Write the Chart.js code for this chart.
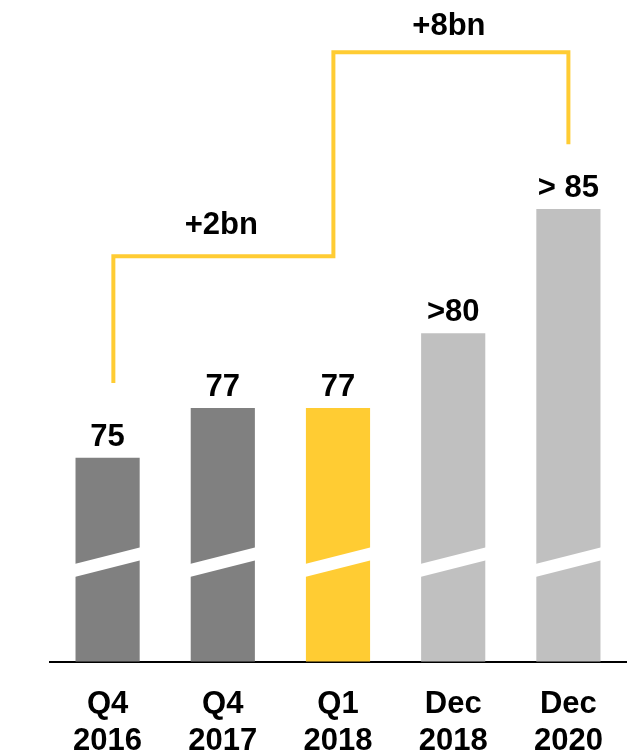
<!DOCTYPE html>
<html lang="en">
<head>
  <meta charset="UTF-8">
  <title>Volume growth</title>
  <script src="https://cdn.jsdelivr.net/npm/chart.js@4.4.3/dist/chart.umd.min.js"></script>
  <style>
    html, body { margin: 0; padding: 0; background: #fff; }
    #wrap { width: 635px; height: 755px; }
  </style>
</head>
<body>
  <div id="wrap"><canvas id="chart" width="635" height="755"></canvas></div>
  <script>
    // chart data
    const categories = [['Q4', '2016'], ['Q4', '2017'], ['Q1', '2018'], ['Dec', '2018'], ['Dec', '2020']];
    const values = [75, 77, 77, 80, 85];
    const valueLabels = ['75', '77', '77', '>80', '> 85'];
    const barColors = ['#808080', '#808080', '#FFCC33', '#C0C0C0', '#C0C0C0'];

    // step connector (x in category index units, y in value units)
    const bracketX = [0.05, 0.05, 1.96, 1.96, 4.0, 4.0];
    const bracketY = [78, 83.1, 83.1, 91.3, 91.3, 87.6];
    const bracketLabels = ['+2bn', '+8bn'];
    const bracketLabelY = [84, 92];

    const yMin = 66.8, yMax = 93;   // broken axis
    const breakValue = 70.8;

    const FONT = '"Liberation Sans", Arial, sans-serif';

    const overlay = {
      id: 'overlay',
      afterDatasetsDraw(chart) {
        const ctx = chart.ctx;
        const y = chart.scales.y;
        const meta = chart.getDatasetMeta(0);
        ctx.save();
        // axis break stripe on each bar
        meta.data.forEach(bar => {
          const half = bar.width / 2 + 1;
          const yc = y.getPixelForValue(breakValue);
          const slope = 0.25, t = 6.5;
          ctx.fillStyle = '#fff';
          ctx.beginPath();
          ctx.moveTo(bar.x - half, yc + half * slope - t);
          ctx.lineTo(bar.x + half, yc - half * slope - t);
          ctx.lineTo(bar.x + half, yc - half * slope + t);
          ctx.lineTo(bar.x - half, yc + half * slope + t);
          ctx.closePath();
          ctx.fill();
        });
        // value labels
        ctx.fillStyle = '#000';
        ctx.font = 'bold 31px ' + FONT;
        ctx.textAlign = 'center';
        ctx.textBaseline = 'alphabetic';
        meta.data.forEach((bar, i) => {
          ctx.fillText(valueLabels[i], bar.x, bar.y - 12);
        });
        // connector labels
        const xl = chart.scales.xl;
        bracketLabels.forEach((txt, i) => {
          const x0 = xl.getPixelForValue(bracketX[i * 2 + 1]);
          const x1 = xl.getPixelForValue(bracketX[i * 2 + 2]);
          ctx.fillText(txt, (x0 + x1) / 2 - 2, y.getPixelForValue(bracketLabelY[i]));
        });
        ctx.restore();
      }
    };

    new Chart(document.getElementById('chart'), {
      type: 'bar',
      data: {
        labels: categories,
        datasets: [{
          type: 'bar',
          data: values,
          backgroundColor: barColors,
          barPercentage: 0.557,
          categoryPercentage: 1,
          grouped: false,
          xAxisID: 'x'
        }, {
          type: 'line',
          data: bracketX.map((x, i) => ({ x: x, y: bracketY[i] })),
          xAxisID: 'xl',
          borderColor: '#FFCC33',
          borderWidth: 4,
          borderJoinStyle: 'miter',
          borderCapStyle: 'butt',
          pointRadius: 0,
          tension: 0,
          fill: false
        }]
      },
      options: {
        responsive: false,
        animation: false,
        layout: { padding: { left: 50, right: 9, top: 10, bottom: -29 } },
        plugins: { legend: { display: false }, tooltip: { enabled: false } },
        scales: {
          x: {
            type: 'category',
            offset: true,
            grid: { display: false, drawTicks: false },
            border: { display: true, color: '#000', width: 2 },
            ticks: {
              color: '#000',
              padding: 24,
              font: { family: FONT, size: 31, weight: 'bold', lineHeight: 1.2 }
            }
          },
          xl: {
            type: 'linear',
            display: false,
            offset: false,
            min: -0.5,
            max: 4.5
          },
          y: {
            display: false,
            min: yMin,
            max: yMax
          }
        }
      },
      plugins: [overlay]
    });
  </script>
</body>
</html>
